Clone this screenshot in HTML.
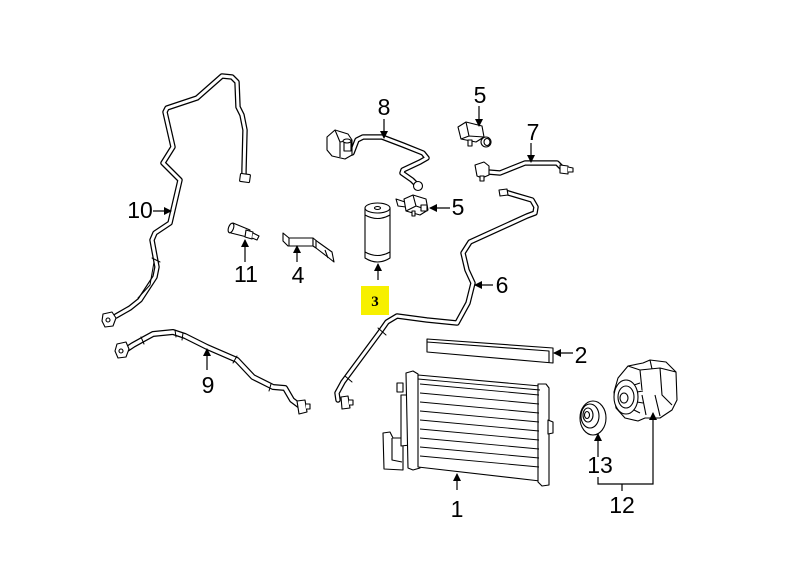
<!DOCTYPE html>
<html><head><meta charset="utf-8">
<style>
html,body{margin:0;padding:0;background:#fff;}
svg{display:block;}
text{font-family:"Liberation Sans",sans-serif;font-size:23px;fill:#000;}
</style></head>
<body>
<svg width="791" height="578" viewBox="0 0 791 578" xmlns="http://www.w3.org/2000/svg">
<defs>
<marker id="ah" markerWidth="8" markerHeight="8" refX="7" refY="4" orient="auto" markerUnits="userSpaceOnUse">
<path d="M0,0 L8,4 L0,8 Z" fill="#000"/>
</marker>
</defs>
<rect width="791" height="578" fill="#fff"/>

<g fill="none" stroke-linejoin="round" stroke-linecap="round">
<!-- Hose 10 -->
<path id="h10" d="M244,176 L244,170 L245,130 L242,115 L238,107 L237,82 L232,77 L222,76 L197,98 L167,108 L165,112 L173,147 L163,163 L180,180 L170,223 L155,233 L152,240 L157,267 L155,277 L140,300 L130,308 L116,316" stroke="#000" stroke-width="5.5"/>
<path d="M244,176 L244,170 L245,130 L242,115 L238,107 L237,82 L232,77 L222,76 L197,98 L167,108 L165,112 L173,147 L163,163 L180,180 L170,223 L155,233 L152,240 L157,267 L155,277 L140,300 L130,308 L116,316" stroke="#fff" stroke-width="3"/>
<path d="M152,258 L160,262 M154,262 L150,285 L138,298" stroke="#000" stroke-width="1"/>

<!-- Hose 9 -->
<path d="M124,351 L133,345 L142,340 L153,334 L173,332 L185,336 L207,347 L237,360 L253,377 L273,387 L285,388 L292,400 L300,406" stroke="#000" stroke-width="6"/>
<path d="M124,351 L133,345 L142,340 L153,334 L173,332 L185,336 L207,347 L237,360 L253,377 L273,387 L285,388 L292,400 L300,406" stroke="#fff" stroke-width="3.5"/>
<path d="M175,330 L176,337 M183,333 L182,340 M237,356 L233,363 M271,384 L269,391 M141,337 L144,344" stroke="#000" stroke-width="1"/>

<!-- Hose 6 -->
<path d="M505,192 L515,195 L532,200 L536,207 L535,213 L527,216 L470,242 L463,253 L467,270 L473,283 L468,303 L457,323 L427,320 L397,316 L387,322 L380,332 L343,382 L337,393 L338,400" stroke="#000" stroke-width="5.5"/>
<path d="M505,192 L515,195 L532,200 L536,207 L535,213 L527,216 L470,242 L463,253 L467,270 L473,283 L468,303 L457,323 L427,320 L397,316 L387,322 L380,332 L343,382 L337,393 L338,400" stroke="#fff" stroke-width="3"/>
<path d="M378,328 L386,335 M345,376 L352,382" stroke="#000" stroke-width="1"/>

<!-- Hose 8 -->
<path d="M352,153 L357,140 L363,137 L382,137 L403,145 L423,153 L427,158 L420,162 L403,170 L402,173 L412,180 L416,184" stroke="#000" stroke-width="5.5"/>
<path d="M352,153 L357,140 L363,137 L382,137 L403,145 L423,153 L427,158 L420,162 L403,170 L402,173 L412,180 L416,184" stroke="#fff" stroke-width="3"/>

<!-- Hose 7 -->
<path d="M488,172 L500,173 L525,163 L557,163 L562,168" stroke="#000" stroke-width="5.5"/>
<path d="M488,172 L500,173 L525,163 L557,163 L562,168" stroke="#fff" stroke-width="3"/>
</g>

<g fill="#fff" stroke="#000" stroke-width="1.1" stroke-linejoin="round">
<!-- hose 10 fittings -->
<rect x="240" y="174" width="10" height="8" rx="1" transform="rotate(8 245 178)"/>
<path d="M103,314 L112,312 L116,318 L113,326 L105,327 L102,321 Z"/>
<circle cx="108" cy="320" r="2"/>
<!-- hose 9 fitting -->
<path d="M117,344 L126,342 L129,349 L126,357 L118,358 L115,351 Z"/>
<circle cx="121" cy="351" r="2"/>
<path d="M297,401 L305,400 L307,412 L299,414 Z"/>
<path d="M306,404 L310,404 L310,409 L306,409"/>
<!-- hose 6 fittings -->
<path d="M341,397 L348,396 L350,408 L342,409 Z"/>
<path d="M349,400 L353,400 L353,405 L349,405"/>
<path d="M499,190 L507,189 L508,195 L500,196 Z"/>
<!-- hose 8 fitting -->
<circle cx="418" cy="186" r="4.5"/>
<!-- hose 7 fittings -->
<path d="M475,165 L484,162 L489,166 L489,175 L482,178 L477,176 Z"/>
<rect x="480" y="176" width="4" height="5"/>
<path d="M560,165 L568,166 L568,174 L560,173 Z"/>
<path d="M568,167 L573,168 L573,172 L568,172"/>

<!-- Part 8 valve -->
<path d="M327,137 L335,130 L348,134 L352,140 L352,155 L345,159 L332,156 L327,150 Z"/>
<path d="M335,130 L340,142 L352,140 M340,142 L340,157"/>
<rect x="344" y="142" width="7" height="9"/>
<ellipse cx="347" cy="141" rx="4" ry="2"/>

<!-- Part 5 top -->
<path d="M458,127 L466,122 L482,126 L484,137 L476,142 L461,139 Z"/>
<path d="M466,122 L469,136 L484,137 M469,136 L461,139"/>
<rect x="468" y="140" width="4" height="6"/>
<ellipse cx="486" cy="142" rx="5" ry="5"/>
<ellipse cx="487" cy="142" rx="3" ry="3.5"/>

<!-- Part 5 middle -->
<path d="M396,199 L405,202 L406,207 L398,206 Z"/>
<path d="M404,199 L413,195 L426,199 L428,210 L420,215 L406,211 Z"/>
<path d="M413,195 L416,206 L428,210 M416,206 L406,211"/>
<rect x="421" y="205" width="6" height="6"/>
<rect x="412" y="211" width="3" height="5"/>

<!-- Part 3 drier -->
<path d="M365,208 L365,258 Q377.5,266 390,258 L390,208"/>
<ellipse cx="377.5" cy="208" rx="12.5" ry="5"/>
<ellipse cx="377.5" cy="208" rx="3" ry="1.5"/>
<path d="M365,215 Q377.5,222 390,215" fill="none"/>
<path d="M365,252 Q377.5,259 390,252" fill="none"/>

<!-- Part 11 sensor -->
<path d="M229,228 L233,223 L250,230 L247,237 L231,233 Z"/>
<ellipse cx="231" cy="228" rx="2.5" ry="5" transform="rotate(20 231 228)"/>
<path d="M246,230 L253,232 L252,239 L245,237 Z"/>
<path d="M253,233 L259,236 L257,240 L252,238"/>

<!-- Part 4 bracket -->
<path d="M283,233 L289,238 L313,238 L313,246 L288,246 L283,241 Z"/>
<path d="M289,238 L289,246"/>
<path d="M313,238 L318,242 L332,252 L334,262 L329,258 L316,248 L313,246 Z"/>
<path d="M316,240 L316,248 M325,250 L328,258"/>

<!-- Part 2 seal -->
<path d="M427,339 L553,348 L553,363 L427,352 Z"/>
<path d="M427,342 L549,351 L549,363" fill="none"/>

<!-- Part 1 condenser -->
<path d="M383,433 L390,432 L393,438 L403,438 L403,470 L384,469 Z"/>
<path d="M392,438 L392,460 L402,462"/>
<path d="M397,383 L403,383 L403,392 L397,392 Z"/>
<path d="M401,395 L408,395 L410,445 L401,446 Z"/>
<path d="M406,373 L413,371 L418,374 L420,468 L413,470 L408,468 Z"/>
<path d="M418,375 L540,386 L540,481 L418,467 Z"/>
<path d="M538,384 L546,384 L549,388 L549,485 L542,486 L538,482 Z"/>
<path d="M548,420 L553,422 L553,433 L548,434 Z"/>
<g fill="none" stroke-width="0.9">
<path d="M420,384 L539,395"/>
<path d="M420,393 L539,404"/>
<path d="M420,402 L539,413"/>
<path d="M420,411 L539,422"/>
<path d="M420,420 L539,431"/>
<path d="M420,429 L539,440"/>
<path d="M420,438 L539,449"/>
<path d="M420,447 L539,458"/>
<path d="M420,456 L539,467"/>
<path d="M418,379 L540,390"/>
</g>

<!-- Part 13 pulley -->
<ellipse cx="593" cy="418" rx="13" ry="17"/>
<ellipse cx="590" cy="416" rx="9" ry="12"/>
<ellipse cx="588" cy="415" rx="5" ry="7"/>
<ellipse cx="587" cy="415" rx="2.5" ry="3.5"/>

<!-- Part 12 compressor -->
<path d="M618,378 L628,366 L643,363 L650,360 L666,362 L676,372 L677,400 L672,410 L660,418 L645,418 L638,421 L625,418 L616,408 L614,392 Z"/>
<path d="M628,366 L640,370 L660,368 L676,372 M640,370 L642,390 M650,360 L652,369 M660,368 L662,395 L672,405 M642,395 L646,415 M655,395 L660,416"/>
<ellipse cx="626" cy="397" rx="12" ry="17"/>
<ellipse cx="626" cy="397" rx="8" ry="11"/>
<ellipse cx="624" cy="398" rx="4" ry="5"/>
<path d="M634,385 L640,383 M637,392 L643,391 M637,402 L643,403 M634,410 L640,413" fill="none"/>
</g>

<!-- Leaders -->
<g stroke="#000" stroke-width="1.2" fill="none">
<line x1="153" y1="211" x2="171" y2="211" marker-end="url(#ah)"/>
<line x1="245" y1="262" x2="245" y2="240" marker-end="url(#ah)"/>
<line x1="297" y1="262" x2="297" y2="246" marker-end="url(#ah)"/>
<line x1="384" y1="119" x2="384" y2="138" marker-end="url(#ah)"/>
<line x1="479" y1="106" x2="479" y2="126" marker-end="url(#ah)"/>
<line x1="531" y1="143" x2="531" y2="162" marker-end="url(#ah)"/>
<line x1="450" y1="208" x2="430" y2="208" marker-end="url(#ah)"/>
<line x1="378" y1="280" x2="378" y2="264" marker-end="url(#ah)"/>
<line x1="493" y1="285" x2="475" y2="285" marker-end="url(#ah)"/>
<line x1="573" y1="353" x2="554" y2="353" marker-end="url(#ah)"/>
<line x1="207" y1="370" x2="207" y2="349" marker-end="url(#ah)"/>
<line x1="457" y1="490" x2="457" y2="474" marker-end="url(#ah)"/>
<line x1="598" y1="457" x2="598" y2="434" marker-end="url(#ah)"/>
<polyline points="598,477 598,484 653,484 653,413" marker-end="url(#ah)"/>
<line x1="622" y1="484" x2="622" y2="491"/>
</g>

<!-- Part 3 label -->
<rect x="361" y="286" width="28" height="29" fill="#f7f000"/>
<text x="375" y="306" text-anchor="middle" style="font-family:'Liberation Serif',serif;font-weight:bold;font-size:15px;">3</text>

<!-- Labels -->
<text x="140" y="218" text-anchor="middle">10</text>
<text x="246" y="282" text-anchor="middle">11</text>
<text x="298" y="283" text-anchor="middle">4</text>
<text x="384" y="115" text-anchor="middle">8</text>
<text x="480" y="103" text-anchor="middle">5</text>
<text x="533" y="140" text-anchor="middle">7</text>
<text x="458" y="215" text-anchor="middle">5</text>
<text x="502" y="293" text-anchor="middle">6</text>
<text x="581" y="363" text-anchor="middle">2</text>
<text x="208" y="393" text-anchor="middle">9</text>
<text x="457" y="517" text-anchor="middle">1</text>
<text x="600" y="473" text-anchor="middle">13</text>
<text x="622" y="513" text-anchor="middle">12</text>
</svg>
</body></html>
